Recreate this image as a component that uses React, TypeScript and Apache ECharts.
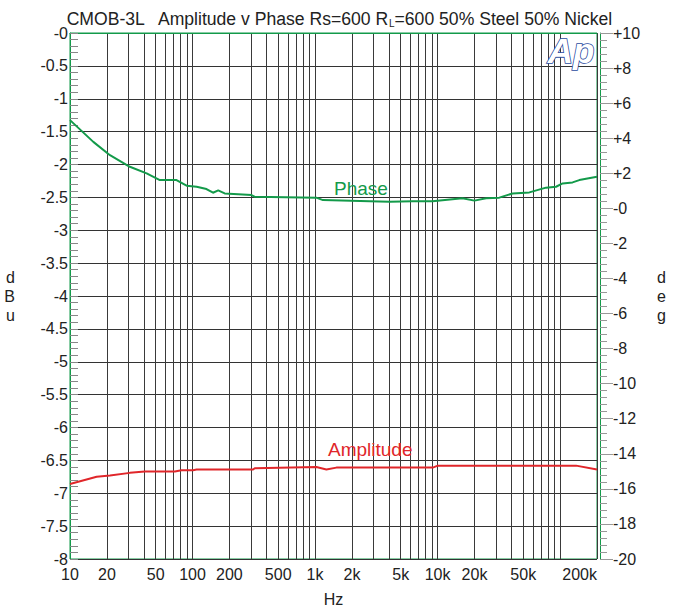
import React, { useEffect, useRef } from "react";
import * as echarts from "echarts";

// Phase curve (right axis, degrees)
const phaseFreq = [10, 15.5, 21.2, 30.8, 42.2, 54.1, 74, 89.4, 108, 130, 147, 162, 183, 303, 322, 1025, 1160, 2790, 4060, 6240, 9080, 15950, 20000, 24900, 31900, 41000, 56100, 76700, 92600, 104800, 126400, 143300, 200000];
const phaseDeg = [5.03, 3.79, 3.03, 2.37, 1.99, 1.61, 1.61, 1.29, 1.23, 1.1, 0.89, 1.02, 0.85, 0.76, 0.66, 0.61, 0.47, 0.41, 0.38, 0.41, 0.41, 0.57, 0.44, 0.57, 0.61, 0.85, 0.91, 1.18, 1.23, 1.42, 1.48, 1.61, 1.8];

// Amplitude curve (left axis, dBu)
const ampFreq = [10, 16.5, 21.2, 30.8, 40.8, 71.8, 81.3, 101, 108, 312, 322, 1025, 1237, 1492, 9140, 10050, 135000, 200000];
const ampDbu = [-6.86, -6.75, -6.73, -6.69, -6.67, -6.67, -6.65, -6.65, -6.64, -6.64, -6.62, -6.6, -6.64, -6.61, -6.61, -6.58, -6.58, -6.64];

// X axis labels and grid lines
const xLabelValues = [10, 20, 50, 100, 200, 500, 1000, 2000, 5000, 10000, 20000, 50000, 200000];
const xGridValues = [10, 20, 30, 40, 50, 60, 70, 80, 90, 100, 200, 300, 400, 500, 600, 700, 800, 900, 1000, 2000, 3000, 4000, 5000, 6000, 7000, 8000, 9000, 10000, 20000, 30000, 40000, 50000, 60000, 70000, 80000, 90000, 100000, 200000];

const GREEN = "#139a4a";
const RED = "#e0262a";
const FONT = "'Liberation Sans', Arial, sans-serif";

export default function App() {
  const ref = useRef<HTMLDivElement>(null);
  useEffect(() => {
    if (!ref.current) return;
    const chart = echarts.init(ref.current, undefined, { renderer: "svg" });
    const fmtHz = (v: number) => (v >= 1000 ? v / 1000 + "k" : String(v));
    chart.setOption({
      animation: false,
      backgroundColor: "#fff",
      textStyle: { fontFamily: FONT },
      title: {
        left: "center",
        top: 4,
        text: "{a|CMOB-3L   Amplitude v Phase Rs=600 R}{s|L}{a|=600 50% Steel 50% Nickel}",
        textStyle: {
          rich: {
            a: { fontSize: 17.6, fontWeight: "normal", color: "#222", fontFamily: FONT },
            s: { fontSize: 10, fontWeight: "normal", color: "#222", fontFamily: FONT, verticalAlign: "bottom", padding: [9, 0, 0, 0] },
          },
        },
      },
      grid: {
        left: 70,
        right: 81,
        top: 33,
        bottom: 50,
        show: true,
        borderColor: GREEN,
        borderWidth: 1,
        backgroundColor: "#fff",
      },
      xAxis: {
        type: "log",
        logBase: 10,
        min: 10,
        max: 200000,
        axisLine: { show: true, lineStyle: { color: GREEN } },
        axisTick: { show: false, customValues: xGridValues },
        axisLabel: {
          customValues: xLabelValues,
          formatter: fmtHz,
          fontSize: 16,
          color: "#222",
          margin: 7,
          alignMaxLabel: "right",
          fontFamily: FONT,
        },
        splitLine: { show: true, lineStyle: { color: "#3a3a3a", width: 1 } },
        name: "Hz",
        nameLocation: "middle",
        nameGap: 32,
        nameTextStyle: { fontSize: 16, color: "#222", fontFamily: FONT },
      },
      yAxis: [
        {
          type: "value",
          min: -8,
          max: 0,
          interval: 0.5,
          position: "left",
          axisLine: { show: true, lineStyle: { color: GREEN } },
          axisTick: { show: true, inside: true, length: 8, lineStyle: { color: "#888" } },
          minorTick: { show: true, splitNumber: 5, length: 8, lineStyle: { color: "#888" } },
          axisLabel: {
            formatter: (v: number) => (v === 0 ? "-0" : String(v)),
            fontSize: 16,
            color: "#222",
            margin: 2,
            fontFamily: FONT,
          },
          splitLine: { show: true, lineStyle: { color: "#333", width: 1 } },
          name: "d\nB\nu",
          nameLocation: "middle",
          nameRotate: 0,
          nameGap: 55,
          nameTextStyle: { fontSize: 16, lineHeight: 19, color: "#222", fontFamily: FONT },
        },
        {
          type: "value",
          min: -20,
          max: 10,
          interval: 2,
          position: "right",
          offset: 3,
          axisLine: { show: true, lineStyle: { color: GREEN } },
          axisTick: { show: true, inside: false, length: 13, lineStyle: { color: "#999" } },
          minorTick: { show: true, splitNumber: 5, length: 7, lineStyle: { color: "#999" } },
          axisLabel: {
            formatter: (v: number) => (v > 0 ? "+" + v : v === 0 ? "-0" : String(v)),
            fontSize: 16,
            color: "#222",
            margin: 13,
            fontFamily: FONT,
          },
          splitLine: { show: false },
          name: "d\ne\ng",
          nameLocation: "middle",
          nameRotate: 0,
          nameGap: 57,
          nameTextStyle: { fontSize: 16, lineHeight: 19, color: "#222", fontFamily: FONT },
        },
      ],
      graphic: [
        {
          type: "text",
          left: 547,
          top: 32,
          z: 100,
          style: {
            text: "Ap",
            font: "bold italic 35px 'Liberation Sans', Arial, sans-serif",
            fill: "#fff",
            stroke: "#2a4b9e",
            lineWidth: 1.6,
          },
        },
        {
          type: "text",
          left: 334,
          top: 179,
          z: 100,
          style: { text: "Phase", font: "19px 'Liberation Sans', Arial, sans-serif", fill: GREEN },
        },
        {
          type: "text",
          left: 328,
          top: 440,
          z: 100,
          style: { text: "Amplitude", font: "19px 'Liberation Sans', Arial, sans-serif", fill: RED },
        },
      ],
      series: [
        {
          name: "Phase",
          type: "line",
          yAxisIndex: 1,
          showSymbol: false,
          data: phaseFreq.map((f, i) => [f, phaseDeg[i]]),
          lineStyle: { color: GREEN, width: 2 },
          itemStyle: { color: GREEN },
        },
        {
          name: "Amplitude",
          type: "line",
          yAxisIndex: 0,
          showSymbol: false,
          data: ampFreq.map((f, i) => [f, ampDbu[i]]),
          lineStyle: { color: RED, width: 2 },
          itemStyle: { color: RED },
        },
      ],
    });
    return () => chart.dispose();
  }, []);
  return (
    <div
      ref={ref}
      style={{ position: "absolute", left: 0, top: 0, width: 678, height: 612 }}
    />
  );
}
